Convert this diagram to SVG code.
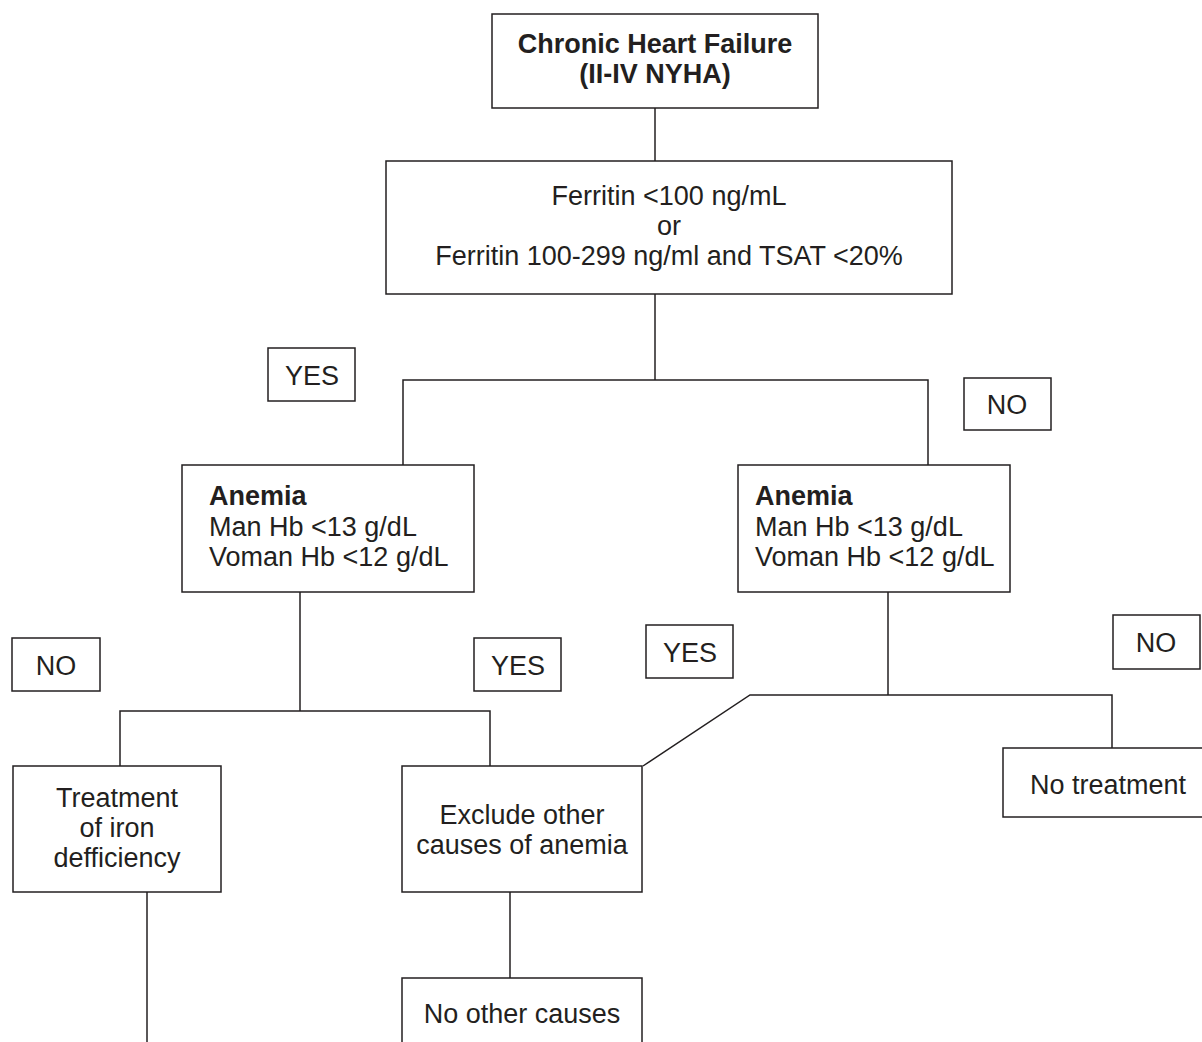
<svg xmlns="http://www.w3.org/2000/svg" width="1202" height="1042" viewBox="0 0 1202 1042">
<style>
rect{fill:#fff;stroke:#231f20;stroke-width:1.5}
.c line,.c polyline{fill:none;stroke:#231f20;stroke-width:1.5}
text{font-family:"Liberation Sans",Arial,sans-serif;font-size:27px;fill:#231f20}
.m{text-anchor:middle}
.b{font-weight:bold}
</style>
<rect x="0" y="0" width="1202" height="1042" style="stroke:none"/>
<g class="c" id="connectors">
<line x1="655" y1="108" x2="655" y2="161"/>
<line x1="655" y1="294" x2="655" y2="380"/>
<polyline points="403,465 403,380 928,380 928,465"/>
<line x1="300" y1="592" x2="300" y2="711"/>
<polyline points="120,766 120,711 490,711 490,766"/>
<line x1="888" y1="592" x2="888" y2="695"/>
<polyline points="643,766 750,695 1112,695 1112,748"/>
<line x1="510" y1="892" x2="510" y2="978"/>
<line x1="147" y1="892" x2="147" y2="1042"/>
</g>
<g id="chf"><rect x="492" y="14" width="326" height="94"/>
<text class="m b" x="655" y="53">Chronic Heart Failure</text>
<text class="m b" x="655" y="83">(II-IV NYHA)</text></g>
<g id="ferritin"><rect x="386" y="161" width="566" height="133"/>
<text class="m" x="669" y="205">Ferritin &lt;100 ng/mL</text>
<text class="m" x="669" y="235">or</text>
<text class="m" x="669" y="265">Ferritin 100-299 ng/ml and TSAT &lt;20%</text></g>
<g id="yes1"><rect x="268" y="348" width="87" height="53"/><text class="m" x="312" y="385">YES</text></g>
<g id="no1"><rect x="964" y="378" width="87" height="52"/><text class="m" x="1007" y="414">NO</text></g>
<g id="anemia1"><rect x="182" y="465" width="292" height="127"/>
<text class="b" x="209" y="505">Anemia</text>
<text x="209" y="536">Man Hb &lt;13 g/dL</text>
<text x="209" y="566">Voman Hb &lt;12 g/dL</text></g>
<g id="anemia2"><rect x="738" y="465" width="272" height="127"/>
<text class="b" x="755" y="505">Anemia</text>
<text x="755" y="536">Man Hb &lt;13 g/dL</text>
<text x="755" y="566">Voman Hb &lt;12 g/dL</text></g>
<g id="no2"><rect x="12" y="638" width="88" height="53"/><text class="m" x="56" y="675">NO</text></g>
<g id="yes2"><rect x="474" y="638" width="87" height="53"/><text class="m" x="518" y="675">YES</text></g>
<g id="yes3"><rect x="646" y="625" width="87" height="53"/><text class="m" x="690" y="662">YES</text></g>
<g id="no3"><rect x="1113" y="615" width="87" height="54"/><text class="m" x="1156" y="652">NO</text></g>
<g id="treatment"><rect x="13" y="766" width="208" height="126"/>
<text class="m" x="117" y="807">Treatment</text>
<text class="m" x="117" y="837">of iron</text>
<text class="m" x="117" y="867">defficiency</text></g>
<g id="exclude"><rect x="402" y="766" width="240" height="126"/>
<text class="m" x="522" y="824">Exclude other</text>
<text class="m" x="522" y="854">causes of anemia</text></g>
<g id="notreat"><rect x="1003" y="748" width="202" height="69"/>
<text class="m" x="1108" y="794">No treatment</text></g>
<g id="noother"><rect x="402" y="978" width="240" height="80"/>
<text class="m" x="522" y="1023">No other causes</text></g>
</svg>
